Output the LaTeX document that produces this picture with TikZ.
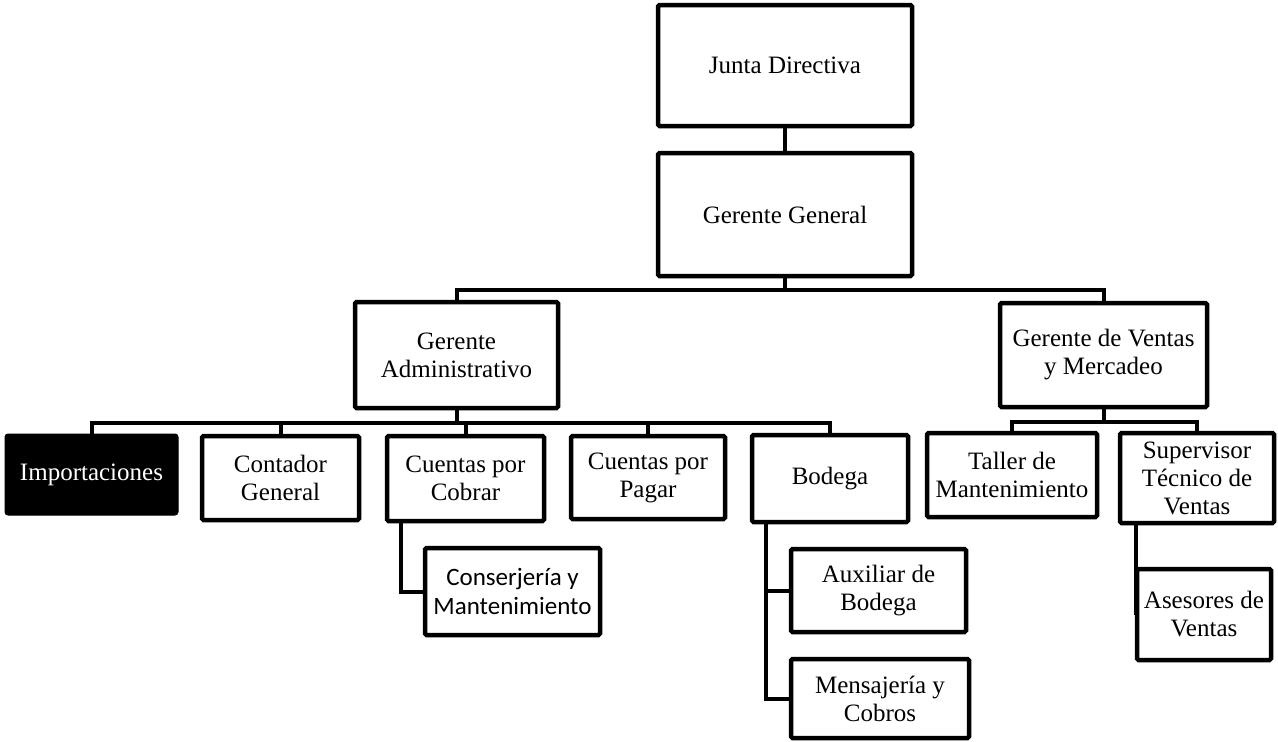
\documentclass[tikz,border=0pt]{standalone}
\usepackage{fontspec}
\setmainfont{Liberation Serif}
\newfontfamily\calibfont{Carlito}
\begin{document}
\begin{tikzpicture}[x=1pt,y=-1pt,
  orgbox/.style={draw=black,line width=4.5pt,rounded corners=1.5pt,inner sep=0pt,align=center,
    font=\fontsize{25}{28}\selectfont},
  darkbox/.style={fill=black,draw=black,line width=1pt,rounded corners=3pt,inner sep=0pt,align=center,
    text=white,font=\fontsize{25}{28}\selectfont},
  link/.style={draw=black,line width=4pt}]
\useasboundingbox (0,0) rectangle (1278,742);
% top
\node[orgbox,minimum width=254pt,minimum height=121pt] (JD) at (785,65.5) {Junta Directiva};
\node[orgbox,minimum width=254pt,minimum height=123pt] (GG) at (785,214.5) {Gerente General};
\node[orgbox,minimum width=203pt,minimum height=106pt] (GA) at (456.5,355) {Gerente\\Administrativo};
\node[orgbox,minimum width=207pt,minimum height=104pt] (GV) at (1103.5,355) {Gerente de Ventas\\y Mercadeo};
% admin children
\node[darkbox,minimum width=173pt,minimum height=81pt] (IM) at (91.5,474.5) {Importaciones};
\node[orgbox,minimum width=157pt,minimum height=84pt] (CG) at (280.5,478) {Contador\\General};
\node[orgbox,minimum width=157pt,minimum height=85pt] (CC) at (465.5,478.5) {Cuentas por\\Cobrar};
\node[orgbox,minimum width=154pt,minimum height=83pt] (CP) at (648,477.5) {Cuentas por\\Pagar};
\node[orgbox,minimum width=156pt,minimum height=87pt] (BO) at (830,478.5) {Bodega};
% ventas children
\node[orgbox,minimum width=170pt,minimum height=84pt] (TM) at (1012,475) {Taller de\\Mantenimiento};
\node[orgbox,minimum width=154pt,minimum height=90pt] (ST) at (1197,478) {Supervisor\\Técnico de\\Ventas};
\node[orgbox,minimum width=134pt,minimum height=91pt] (AV) at (1204,614.5) {Asesores de\\Ventas};
% third level
\node[orgbox,minimum width=175pt,minimum height=87pt,font=\calibfont\fontsize{25}{29}\selectfont] (CM) at (512.5,591.5) {Conserjería y\\Mantenimiento};
\node[orgbox,minimum width=175pt,minimum height=83pt] (AB) at (878.5,590.5) {Auxiliar de\\Bodega};
\node[orgbox,minimum width=178pt,minimum height=79pt] (MC) at (880,698.5) {Mensajería y\\Cobros};
% connectors
\coordinate (b1) at (785,290);
\coordinate (b2) at (456.5,423);
\coordinate (b3) at (1103.5,422);
\draw[link] (JD.south) -- (GG.north);
\draw[link] (GG.south) -- (b1);
\draw[link] (GA.north) |- (b1) -| (GV.north);
\draw[link] (GA.south) -- (b2);
\draw[link] (b2) -| (IM.north);
\draw[link] (b2) -| (CG.north);
\draw[link] (b2) -| (CC.north);
\draw[link] (b2) -| (CP.north);
\draw[link] (b2) -| (BO.north);
\draw[link] (GV.south) -- (b3);
\draw[link] (b3) -| (TM.north);
\draw[link] (b3) -| (ST.north);
\draw[link] ([xshift=16pt]CC.south west) |- (CM.west);
\draw[link] ([xshift=16pt]BO.south west) |- (AB.west);
\draw[link] ([xshift=16pt]BO.south west) |- (MC.west);
\draw[link] ([xshift=18pt]ST.south west) |- (AV.west);
\end{tikzpicture}
\end{document}
